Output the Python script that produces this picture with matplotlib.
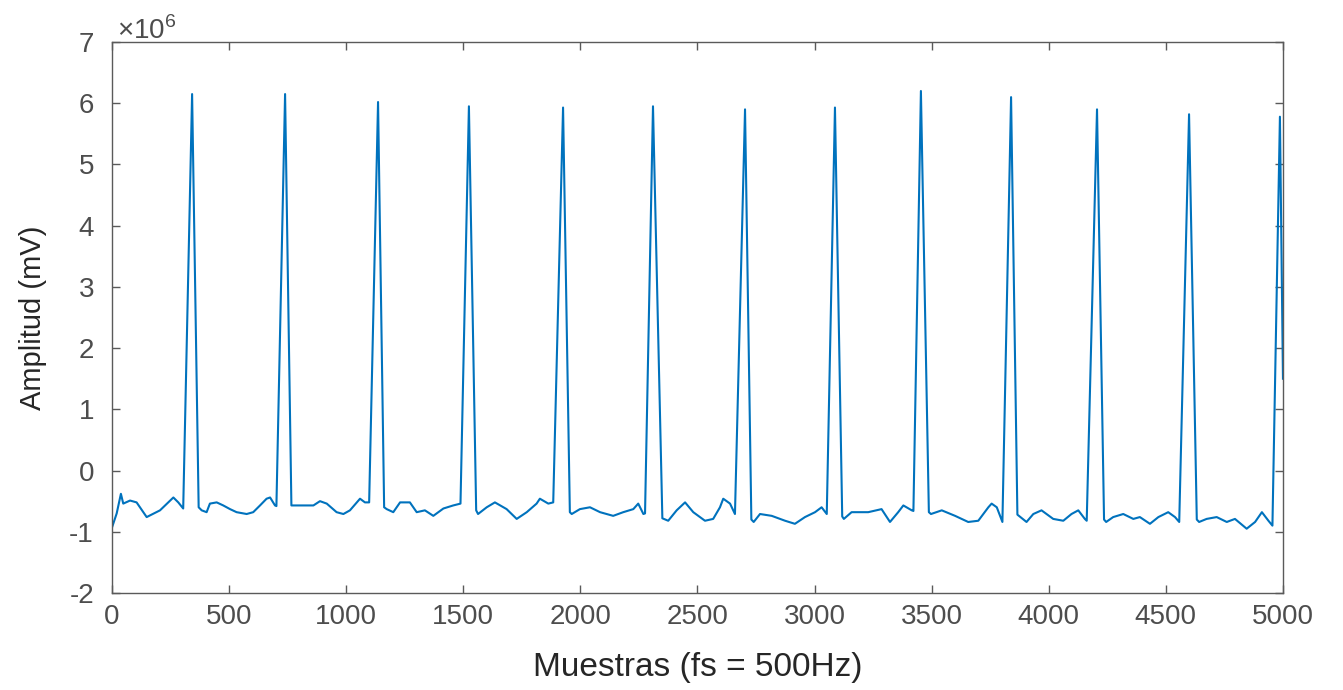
"""
ECG trace (5000 samples at fs = 500 Hz), MATLAB-like look
"""
import matplotlib
matplotlib.use("Agg")
import matplotlib.pyplot as plt
from matplotlib.ticker import FuncFormatter
import numpy as np

# breakpoints of the trace (amplitude in units of 1e6)
muestras = [
    0, 20, 38, 48, 77, 105, 148, 205, 262, 283, 304,
    342, 370, 383, 404, 418, 447, 475, 504, 532, 575, 603, 632, 660, 675, 696, 702,
    739, 766, 803, 860, 888, 917, 959, 988, 1016, 1045, 1059, 1080, 1098,
    1136, 1162, 1173, 1201, 1230, 1272, 1301, 1336, 1372, 1415, 1457, 1488,
    1524, 1555, 1563, 1600, 1635, 1685, 1728, 1771, 1813, 1827, 1863, 1884,
    1926, 1955, 1963, 1998, 2041, 2084, 2140, 2183, 2226, 2247, 2269, 2276,
    2310, 2350, 2375, 2411, 2447, 2482, 2532, 2567, 2596, 2610, 2639, 2660,
    2703, 2730, 2740, 2767, 2817, 2874, 2916, 2959, 3002, 3030, 3052,
    3087, 3118, 3125, 3158, 3229, 3286, 3322, 3357, 3379, 3415, 3422,
    3454, 3488, 3497, 3543, 3600, 3656, 3699, 3742, 3756, 3778, 3802,
    3839, 3866, 3905, 3934, 3969, 4019, 4062, 4097, 4126, 4154, 4162,
    4206, 4236, 4245, 4275, 4318, 4361, 4389, 4432, 4468, 4510, 4539, 4557,
    4599, 4632, 4642, 4674, 4717, 4760, 4795, 4845, 4881, 4910, 4938, 4955,
    4987, 5000,
]
amplitud = [
    -0.93, -0.70, -0.38, -0.54, -0.49, -0.52, -0.76, -0.65, -0.44, -0.52, -0.62,
    6.15, -0.60, -0.65, -0.68, -0.54, -0.52, -0.57, -0.63, -0.68, -0.71, -0.68, -0.57, -0.46, -0.44, -0.57, -0.58,
    6.15, -0.57, -0.57, -0.57, -0.50, -0.54, -0.68, -0.71, -0.65, -0.52, -0.46, -0.52, -0.52,
    6.02, -0.60, -0.63, -0.68, -0.52, -0.52, -0.68, -0.65, -0.74, -0.62, -0.57, -0.54,
    5.95, -0.65, -0.71, -0.60, -0.52, -0.63, -0.79, -0.68, -0.54, -0.46, -0.54, -0.52,
    5.93, -0.68, -0.71, -0.63, -0.60, -0.68, -0.74, -0.68, -0.63, -0.54, -0.71, -0.70,
    5.95, -0.78, -0.82, -0.65, -0.52, -0.68, -0.82, -0.79, -0.60, -0.46, -0.54, -0.71,
    5.90, -0.80, -0.84, -0.71, -0.74, -0.82, -0.87, -0.76, -0.68, -0.60, -0.71,
    5.93, -0.75, -0.79, -0.68, -0.68, -0.63, -0.84, -0.68, -0.57, -0.65, -0.66,
    6.20, -0.68, -0.71, -0.65, -0.74, -0.84, -0.82, -0.60, -0.54, -0.60, -0.84,
    6.10, -0.72, -0.84, -0.71, -0.65, -0.79, -0.82, -0.71, -0.65, -0.79, -0.82,
    5.90, -0.80, -0.84, -0.76, -0.71, -0.79, -0.76, -0.87, -0.76, -0.68, -0.76, -0.84,
    5.82, -0.80, -0.84, -0.79, -0.76, -0.84, -0.79, -0.95, -0.84, -0.68, -0.82, -0.90,
    5.78, 1.50,
]
x_ticks = list(range(0, 5001, 500))
y_ticks = list(range(-2, 8))
ESCALA = 1e6

plt.rcParams['font.family'] = ['Liberation Sans', 'DejaVu Sans']
plt.rcParams['mathtext.fontset'] = 'custom'
plt.rcParams['mathtext.rm'] = 'Liberation Sans'
plt.rcParams['axes.unicode_minus'] = False

fig = plt.figure(figsize=(13.43, 6.90), dpi=100)
ax = fig.add_axes([0.0834, 0.1406, 0.8719, 0.7985])

ax.plot(muestras, np.array(amplitud) * ESCALA, color='#0072BD', lw=1.5)

ax.set_xlim(0, 5000)
ax.set_ylim(-2 * ESCALA, 7 * ESCALA)
ax.set_xticks(x_ticks)
ax.set_yticks([v * ESCALA for v in y_ticks])
ax.yaxis.set_major_formatter(FuncFormatter(lambda v, p: f'{v / ESCALA:g}'))
# MATLAB-style exponent label above the y axis
ax.text(0.004, 1.005, r'$\times10^{6}$', transform=ax.transAxes,
        ha='left', va='baseline', fontsize=20, color='#4d4d4d')

for s in ax.spines.values():
    s.set_color('#5a5a5a')
    s.set_linewidth(1.0)
ax.tick_params(direction='in', length=6, width=1, colors='#5a5a5a',
               labelcolor='#4d4d4d', labelsize=20, top=True, right=True)
ax.tick_params(axis='y', pad=13)
ax.tick_params(axis='x', pad=8)

ax.set_xlabel('Muestras (fs = 500Hz)', fontsize=24, color='#262626', labelpad=16)
ax.set_ylabel('Amplitud (mV)', fontsize=21, color='#262626', labelpad=16)

fig.savefig('out.png', dpi=100)
